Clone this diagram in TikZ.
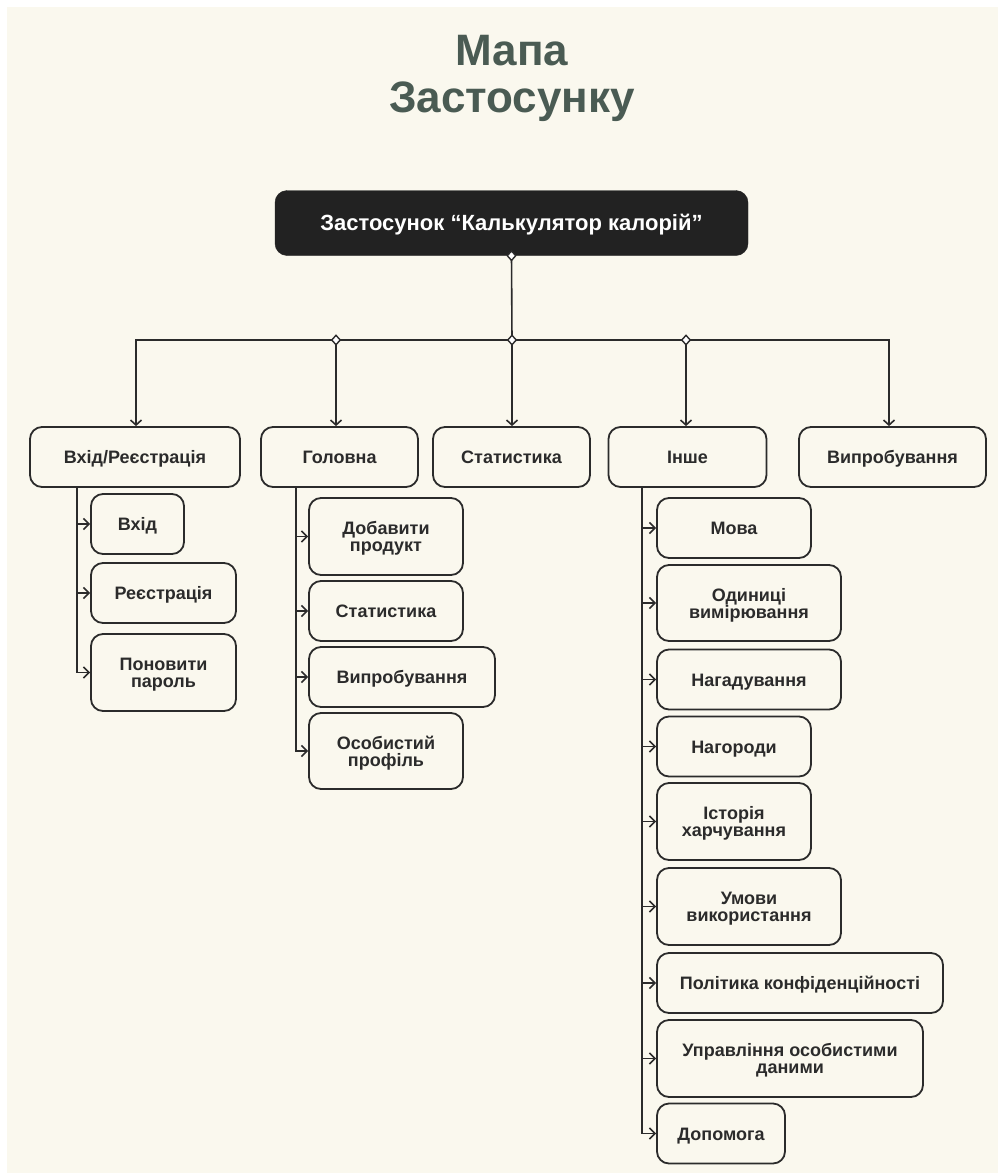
\documentclass[tikz,border=0pt]{standalone}
\usepackage{fontspec}
\setmainfont{Liberation Sans}
\usetikzlibrary{arrows.meta,shapes.geometric}
\definecolor{cream}{HTML}{FAF8EE}
\definecolor{ink}{HTML}{2B2B2B}
\definecolor{titlec}{HTML}{4A5B53}
\definecolor{rootc}{HTML}{222222}
\newcommand{\bxfont}{\fontsize{18}{17}\selectfont\bfseries}
\newcommand{\ttlfont}{\fontsize{44}{46}\selectfont\bfseries}
\newcommand{\rtfont}{\fontsize{22}{24}\selectfont\bfseries}
\begin{document}
\begin{tikzpicture}[x=1pt,y=-1pt,
  box/.style={draw=ink, line width=1.8pt, rounded corners=12pt, fill=cream, inner sep=0pt, align=center, font=\bxfont, text=ink, text depth=0pt},
  one/.style={text height=13pt},
  rootbox/.style={draw=rootc, fill=rootc, rounded corners=12pt, inner sep=0pt, font=\rtfont, text=white, text height=15.8pt, text depth=0pt},
  ln/.style={draw=ink, line width=1.6pt},
  arr/.style={draw=ink, line width=1.6pt, -{Straight Barb[length=5pt,width=11pt]}},
  arrs/.style={draw=ink, line width=1.6pt, -{Straight Barb[length=5.5pt,width=11pt]}},
  dia/.style={diamond, draw=ink, fill=white, line width=1.4pt, inner sep=0pt, minimum width=9pt, minimum height=10pt}
]
\useasboundingbox (0,0) rectangle (998,1173);
\fill[white] (0,0) rectangle (998,1173);
\fill[cream] (7,7) rectangle (998,1173);

% title
\node[font=\ttlfont, text=titlec, anchor=base] (ttl1) at (512,65) {Мапа};
\node[font=\ttlfont, text=titlec, anchor=base] (ttl2) at (512,112) {Застосунку};

% root
\node[rootbox, minimum width=473pt, minimum height=65pt] (root) at (511.5,223) {Застосунок “Калькулятор калорій”};

% level 1
\node[box, one, minimum width=210pt, minimum height=60pt] (l1) at (135,457) {Вхід/Реєстрація};
\node[box, one, minimum width=157pt, minimum height=60pt] (l2) at (339.5,457) {Головна};
\node[box, one, minimum width=157pt, minimum height=60pt] (l3) at (511.5,457) {Статистика};
\node[box, one, minimum width=158pt, minimum height=60pt] (l4) at (687.5,457) {Інше};
\node[box, one, minimum width=187pt, minimum height=60pt] (l5) at (892.5,457) {Випробування};

% subs of l1
\node[box, one, minimum width=93pt, minimum height=60pt] (a1) at (137.5,524) {Вхід};
\node[box, one, minimum width=145pt, minimum height=60pt] (a2) at (163.5,593) {Реєстрація};
\node[box, minimum width=145pt, minimum height=77pt] (a3) at (163.5,672.5) {Поновити\\пароль};

% subs of l2
\node[box, minimum width=154pt, minimum height=77pt] (b1) at (386,536.5) {Добавити\\продукт};
\node[box, one, minimum width=154pt, minimum height=60pt] (b2) at (386,611) {Статистика};
\node[box, one, minimum width=186pt, minimum height=60pt] (b3) at (402,677) {Випробування};
\node[box, minimum width=154pt, minimum height=76pt] (b4) at (386,751) {Особистий\\профіль};

% subs of l4
\node[box, one, minimum width=154pt, minimum height=60pt] (c1) at (734,528) {Мова};
\node[box, minimum width=184pt, minimum height=76pt] (c2) at (749,603) {Одиниці\\вимірювання};
\node[box, one, minimum width=184pt, minimum height=60pt] (c3) at (749,679.5) {Нагадування};
\node[box, one, minimum width=154pt, minimum height=60pt] (c4) at (734,746.5) {Нагороди};
\node[box, minimum width=154pt, minimum height=77pt] (c5) at (734,821.5) {Історія\\харчування};
\node[box, minimum width=184pt, minimum height=77pt] (c6) at (749,906.5) {Умови\\використання};
\node[box, one, minimum width=286pt, minimum height=60pt] (c7) at (800,983) {Політика конфіденційності};
\node[box, minimum width=266pt, minimum height=77pt] (c8) at (790,1058.5) {Управління особистими\\даними};
\node[box, one, minimum width=128pt, minimum height=60pt] (c9) at (721,1133.5) {Допомога};

% main connectors
\coordinate (bus) at (512,340);
\coordinate (busL) at (136,340);
\coordinate (busR) at (889,340);
\coordinate (j2) at (336,340);
\coordinate (j4) at (686,340);
\draw[ln] (root.south) -- (bus);
\draw[arr] (bus) -- (busL) -- (busL |- l1.north);
\draw[arr] (bus) -- (busR) -- (busR |- l5.north);
\draw[arr] (j2) -- (j2 |- l2.north);
\draw[arr] (bus) -- (bus |- l3.north);
\draw[arr] (j4) -- (j4 |- l4.north);

% sub connectors
\coordinate (t1) at (77,487);
\coordinate (t2) at (296,487);
\coordinate (t4) at (642,487);
\foreach \s in {a1,a2,a3} { \draw[arrs] (t1) |- (\s.west); }
\foreach \s in {b1,b2,b3,b4} { \draw[arrs] (t2) |- (\s.west); }
\foreach \s in {c1,c2,c3,c4,c5,c6,c7,c8,c9} { \draw[arrs] (t4) |- (\s.west); }

% diamonds
\node[dia] (dm0) at (root.south) {};
\node[dia] (dm1) at (j2) {};
\node[dia] (dm2) at (bus) {};
\node[dia] (dm3) at (j4) {};
\end{tikzpicture}
\end{document}
